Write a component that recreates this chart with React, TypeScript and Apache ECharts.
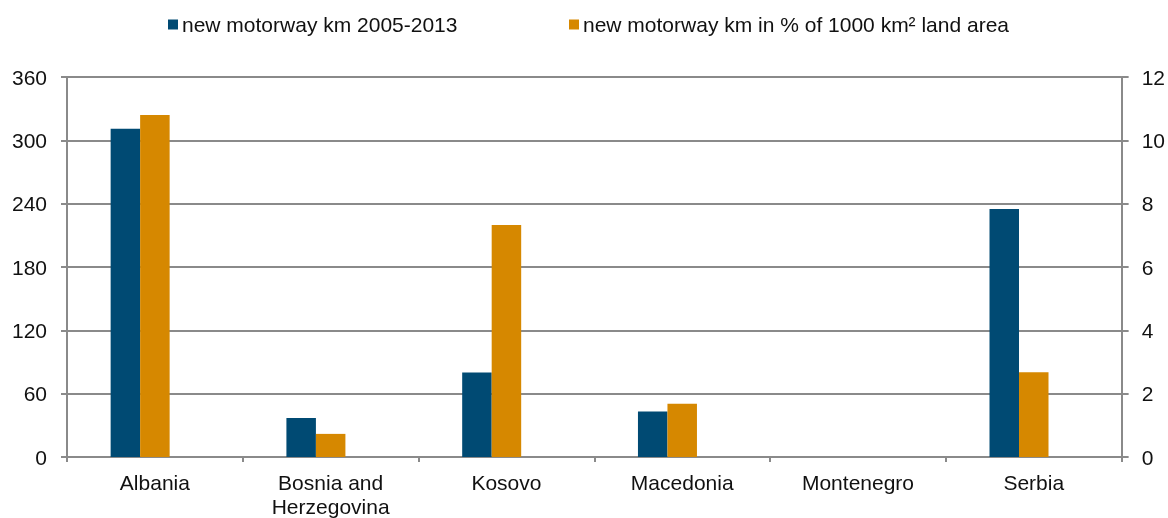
import React, { useEffect, useRef } from "react";
import * as echarts from "echarts";

const categories = ["Albania", "Bosnia and\nHerzegovina", "Kosovo", "Macedonia", "Montenegro", "Serbia"];
const seriesKmName = "new motorway km 2005-2013";
const seriesPctName = "new motorway km in % of 1000 km² land area";
const kmValues = [311, 37, 80, 43, 0, 235];
const pctValues = [10.8, 0.73, 7.33, 1.68, 0, 2.68];
const spacerValues = ["-", "-", "-", "-", "-", "-"];
const leftTicks = { min: 0, max: 360, interval: 60 };
const rightTicks = { min: 0, max: 12, interval: 2 };

const FONT = "Liberation Sans, Arial, sans-serif";
const GRAY = "#8a8a8a";
const FS = 21;

export default function App() {
  const ref = useRef<HTMLDivElement>(null);
  useEffect(() => {
    const chart = echarts.init(ref.current!, null, { renderer: "svg" });
    const legendBase = {
      top: 9,
      itemWidth: 10,
      itemHeight: 10,
      icon: "rect",
      textStyle: { fontSize: FS, color: "#111", fontFamily: FONT, padding: [0, 0, 0, -1] },
    };
    chart.setOption({
      animation: false,
      textStyle: { fontFamily: FONT },
      legend: [
        { ...legendBase, left: 163, data: [seriesKmName] },
        { ...legendBase, left: 564, data: [seriesPctName] },
      ],
      grid: { left: 67, right: 45, top: 77, bottom: 58, containLabel: false },
      xAxis: {
        type: "category",
        data: categories,
        axisLine: { lineStyle: { color: GRAY, width: 2 } },
        axisTick: { show: true, length: 5, lineStyle: { color: GRAY, width: 2 } },
        axisLabel: { fontSize: FS, color: "#111", margin: 13, lineHeight: 24, fontFamily: FONT },
      },
      yAxis: [
        {
          type: "value",
          ...leftTicks,
          position: "left",
          axisLine: { show: true, lineStyle: { color: GRAY, width: 2 } },
          axisTick: { show: true, length: 6, lineStyle: { color: GRAY, width: 2 } },
          axisLabel: { fontSize: FS, color: "#111", margin: 20, fontFamily: FONT },
          splitLine: { show: true, lineStyle: { color: GRAY, width: 2 } },
        },
        {
          type: "value",
          ...rightTicks,
          position: "right",
          axisLine: { show: true, lineStyle: { color: GRAY, width: 2 } },
          axisTick: { show: true, length: 7, lineStyle: { color: GRAY, width: 2 } },
          axisLabel: { fontSize: FS, color: "#111", margin: 20, fontFamily: FONT },
          splitLine: { show: false },
        },
      ],
      series: [
        {
          name: seriesKmName,
          type: "bar",
          yAxisIndex: 0,
          data: kmValues,
          barWidth: 29.5,
          barGap: "0%",
          itemStyle: { color: "#004A73" },
        },
        {
          name: seriesPctName,
          type: "bar",
          yAxisIndex: 1,
          data: pctValues,
          barWidth: 29.5,
          barGap: "0%",
          itemStyle: { color: "#D68800" },
        },
        {
          name: "spacer",
          type: "bar",
          yAxisIndex: 0,
          data: spacerValues,
          barWidth: 29.5,
          barGap: "0%",
          itemStyle: { color: "transparent" },
        },
      ],
    });
    return () => chart.dispose();
  }, []);
  return <div ref={ref} style={{ position: "fixed", left: 0, top: 0, width: 1168, height: 518 }} />;
}
